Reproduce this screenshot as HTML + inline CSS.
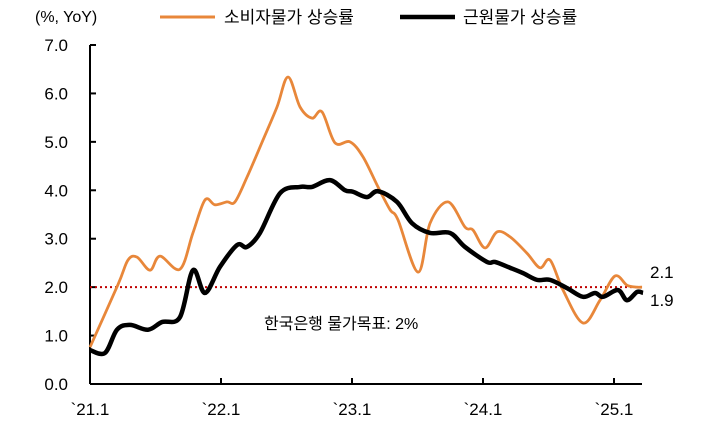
<!DOCTYPE html>
<html><head><meta charset="utf-8"><style>
body{margin:0;background:#fff;}
svg{display:block;font-family:"Liberation Sans","Noto Sans CJK KR",sans-serif;}
</style></head><body>
<svg id="chart" width="701" height="435" viewBox="0 0 701 435">
<text x="35" y="22" font-size="16" fill="#000">(%, YoY)</text>
<g>
<line x1="160" y1="17" x2="215" y2="17" stroke="#E8873A" stroke-width="3"/>
<text x="224" y="23" font-size="17">소비자물가 상승률</text>
<line x1="400" y1="17" x2="455" y2="17" stroke="#000" stroke-width="4.5"/>
<text x="463" y="23" font-size="17">근원물가 상승률</text>
</g>
<g id="axes"></g>
<g id="marks"></g>
</svg>
<script>
const yTicks=[0,1,2,3,4,5,6,7];
const xLabels=["`21.1","`22.1","`23.1","`24.1","`25.1"];
const target=2.0;
const cpiT=[0,2.56,3.48,4.31,5.5,6.41,8.24,9.43,10.53,11.45,12.55,13.28,14.38,15.85,17.13,18.14,19.24,20.34,21.25,22.44,23.82,25.01,26.38,27.48,28.21,30.05,31.15,32.79,34.35,35.08,36.18,37.28,38.47,40.03,41.22,42.14,43.33,45.16,46.72,48.09,49.19,50.11,50.57];
const cpiV=[0.76,2.05,2.56,2.62,2.35,2.64,2.37,3.12,3.8,3.7,3.76,3.76,4.27,5.04,5.72,6.34,5.72,5.49,5.62,4.98,5.0,4.69,4.07,3.6,3.39,2.31,3.32,3.76,3.24,3.18,2.81,3.14,3.04,2.7,2.4,2.56,1.94,1.26,1.73,2.23,2.04,2.0,2.0];
const coreT=[0,1.37,2.47,3.66,5.31,6.6,8.24,9.43,10.53,11.91,13.47,14.38,15.57,17.41,19.24,20.34,21.98,23.36,24.09,25.37,26.38,28.12,29.5,31.15,32.98,34.35,36.37,37.1,38.47,39.66,40.95,42.14,43.7,45.16,46.26,46.99,48.36,49.19,50.11,50.66];
const coreV=[0.70,0.64,1.12,1.22,1.12,1.28,1.38,2.35,1.88,2.42,2.87,2.83,3.12,3.94,4.07,4.07,4.21,4.0,3.97,3.86,3.98,3.76,3.32,3.12,3.12,2.83,2.52,2.52,2.4,2.29,2.15,2.15,1.98,1.8,1.88,1.8,1.94,1.73,1.9,1.88];
const endLabels=["2.1","1.9"];

const NS="http://www.w3.org/2000/svg";
const X0=90,Y0=384,pxMonth=131/12,pxUnit=(384-45)/7,XEND=642;
const xs=t=>X0+t*pxMonth, ys=v=>Y0-v*pxUnit;
function mk(tag,attrs,parent){const e=document.createElementNS(NS,tag);for(const k in attrs)e.setAttribute(k,attrs[k]);parent.appendChild(e);return e;}
const axes=document.getElementById('axes'),marks=document.getElementById('marks');

const yAxis=mk('line',{x1:X0,y1:45,x2:X0,y2:Y0,stroke:'#000','stroke-width':2},axes);


const xAxis=mk('line',{x1:X0,y1:Y0,x2:XEND,y2:Y0,stroke:'#000','stroke-width':2},axes);


yTicks.forEach(v=>{
  const tk=mk('line',{x1:X0,y1:ys(v),x2:X0+6,y2:ys(v),stroke:'#000','stroke-width':2},axes);
  
  
  const tx=mk('text',{x:68,y:ys(v)+6,'font-size':17,'text-anchor':'end'},axes);
  tx.textContent=v.toFixed(1);
  
  
});
xLabels.forEach((l,i)=>{
  const x=xs(i*12);
  const tk=mk('line',{x1:x,y1:Y0,x2:x,y2:Y0-6,stroke:'#000','stroke-width':2},axes);
  
  
  const tx=mk('text',{x:x,y:415,'font-size':17,'text-anchor':'middle'},axes);
  tx.textContent=l;
  
  
});
const tl=mk('line',{x1:X0,y1:ys(target),x2:XEND,y2:ys(target),stroke:'#C00000','stroke-width':2,'stroke-dasharray':'2 3'},marks);


const tt=mk('text',{x:264,y:329,'font-size':16},marks);
tt.textContent='한국은행 물가목표: 2%';



function smooth(T,V){
  const p=T.map((t,i)=>[xs(t),ys(V[i])]);
  let d='M'+p[0][0]+','+p[0][1];
  for(let i=0;i<p.length-1;i++){
    const a=p[Math.max(0,i-1)],b=p[i],c=p[i+1],e=p[Math.min(p.length-1,i+2)];
    const c1=[b[0]+(c[0]-a[0])/6,b[1]+(c[1]-a[1])/6],c2=[c[0]-(e[0]-b[0])/6,c[1]-(e[1]-b[1])/6];
    d+=' C'+c1[0]+','+c1[1]+' '+c2[0]+','+c2[1]+' '+c[0]+','+c[1];
  }
  return d;
}
const cpi=mk('path',{d:smooth(cpiT,cpiV),fill:'none',stroke:'#E8873A','stroke-width':2.8,'stroke-linejoin':'round'},marks);


const core=mk('path',{d:smooth(coreT,coreV),fill:'none',stroke:'#000','stroke-width':4.5,'stroke-linejoin':'round'},marks);


const l1=mk('text',{x:650,y:278,'font-size':17},marks);
l1.textContent=endLabels[0];


const l2=mk('text',{x:650,y:306,'font-size':17},marks);
l2.textContent=endLabels[1];


</script>
</body></html>
